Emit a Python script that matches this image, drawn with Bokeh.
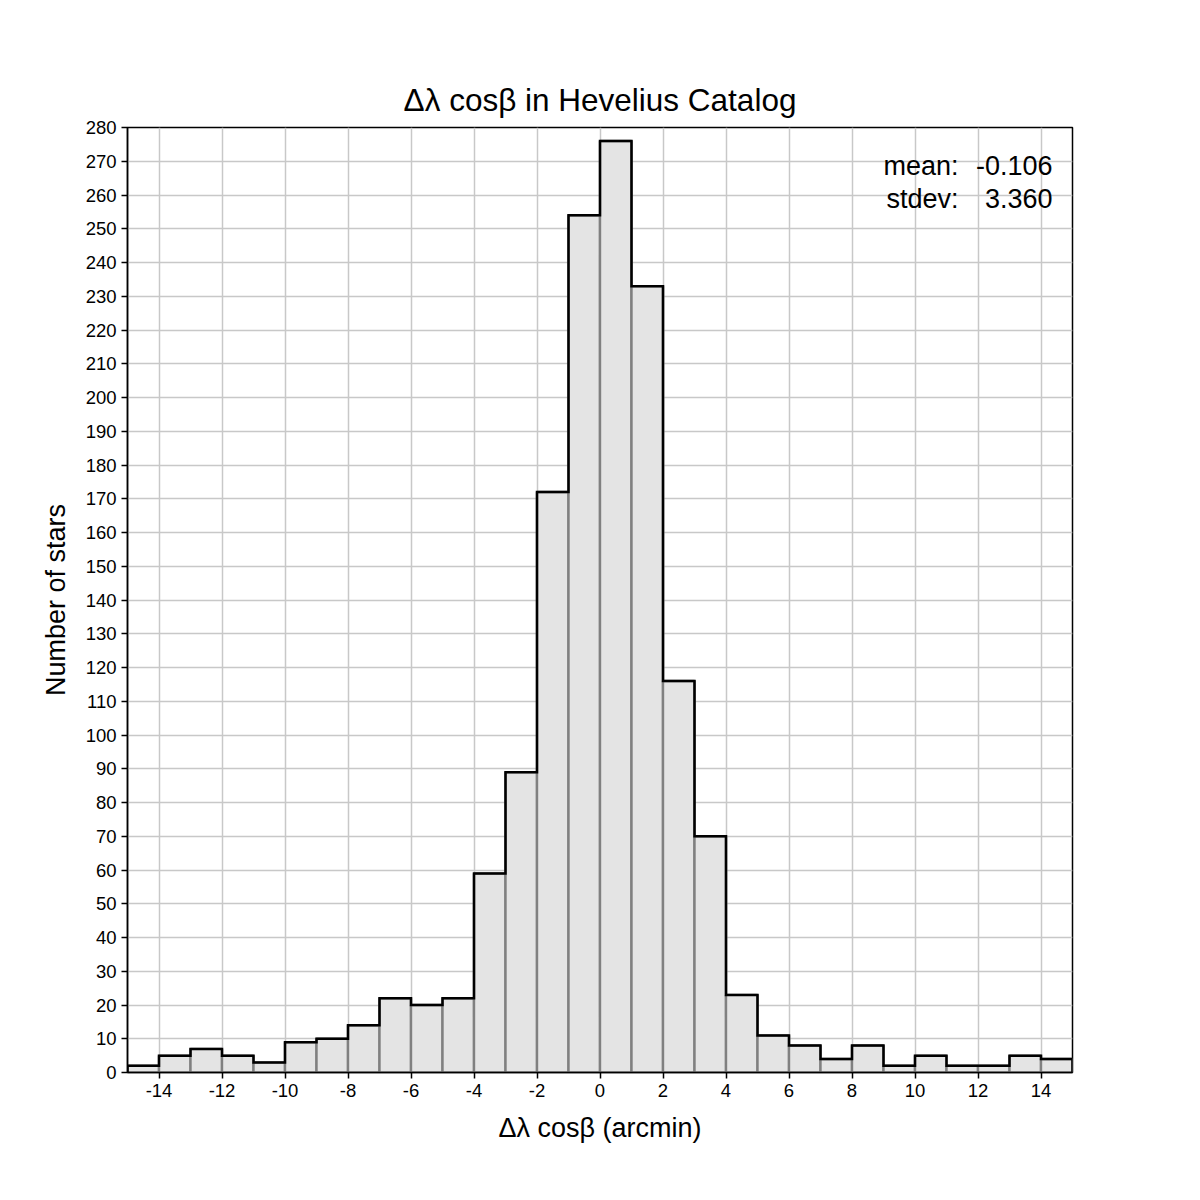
from bokeh.plotting import figure
from bokeh.models import Range1d, FixedTicker, Label, ColumnDataSource, PrintfTickFormatter
from bokeh.embed import file_html
from bokeh.resources import INLINE

# ---- data ----
bin_left = list(range(-15, 15))
bin_right = list(range(-14, 16))
counts = [2, 5, 7, 5, 3, 9, 10, 14, 22, 20, 22, 59, 89, 172, 254,
          276, 233, 116, 70, 23, 11, 8, 4, 8, 2, 5, 2, 2, 5, 4]
x_ticks = list(range(-14, 15, 2))
y_ticks = list(range(0, 281, 10))
title_text = "Δλ cosβ in Hevelius Catalog"
x_label = "Δλ cosβ (arcmin)"
y_label = "Number of stars"
stats_names = ["mean:", "stdev:"]
stats_values = ["-0.106", "3.360"]

FONT = "Liberation Sans"

p = figure(width=1184, height=1184, output_backend="svg", toolbar_location=None,
           x_range=Range1d(-15, 15), y_range=Range1d(0, 280),
           min_border_left=127, min_border_right=112,
           min_border_top=127, min_border_bottom=112)

p.title.text = title_text
p.title.text_font = FONT
p.title.text_font_size = "31.5px"
p.title.text_font_style = "normal"
p.title.text_color = "black"
p.title.align = "center"
p.title.standoff = 20

src = ColumnDataSource(dict(left=bin_left, right=bin_right, top=counts))
p.quad(left="left", right="right", bottom=0, top="top", source=src,
       fill_color="#e4e4e4", line_color="#808080", line_width=2.4)

# outline step
xs, ys = [bin_left[0]], [0]
for l, r, c in zip(bin_left, bin_right, counts):
    xs += [l, r]
    ys += [c, c]
xs.append(bin_right[-1]); ys.append(0)
p.line(xs, ys, line_color="black", line_width=2.5, line_join="miter")

# grid
p.xgrid.ticker = FixedTicker(ticks=x_ticks)
p.ygrid.ticker = FixedTicker(ticks=y_ticks)
for g in (p.xgrid, p.ygrid):
    g.grid_line_color = "#c8c8c8"
    g.grid_line_width = 1.5
    g.level = "underlay"

# axes
p.xaxis.ticker = FixedTicker(ticks=x_ticks)
p.yaxis.ticker = FixedTicker(ticks=y_ticks)
for ax in (p.xaxis, p.yaxis):
    ax.formatter = PrintfTickFormatter(format="%d")
    ax.axis_line_color = "black"
    ax.axis_line_width = 1.5
    ax.major_tick_line_color = "black"
    ax.major_tick_line_width = 1.5
    ax.major_tick_out = 6
    ax.major_tick_in = 0
    ax.minor_tick_line_color = None
    ax.major_label_text_font = FONT
    ax.major_label_text_font_size = "18.5px"
    ax.major_label_text_color = "black"
    ax.axis_label_text_font = FONT
    ax.axis_label_text_font_size = "27px"
    ax.axis_label_text_font_style = "normal"
    ax.axis_label_text_color = "black"
p.xaxis.axis_label = x_label
p.yaxis.axis_label = y_label
p.xaxis.major_label_standoff = 5
p.yaxis.major_label_standoff = 5
p.xaxis.axis_label_standoff = 13
p.yaxis.axis_label_standoff = 12

p.outline_line_color = "black"
p.outline_line_width = 1.5
p.outline_line_alpha = 1

# stats text (screen units relative to frame bottom-left)
for i, (n, v) in enumerate(zip(stats_names, stats_values)):
    yy = 907 - i * 33
    p.add_layout(Label(x=831, y=yy, x_units="screen", y_units="screen", text=n,
                       text_align="right", text_baseline="alphabetic",
                       text_font=FONT, text_font_size="27px", text_color="black"))
    p.add_layout(Label(x=925, y=yy, x_units="screen", y_units="screen", text=v,
                       text_align="right", text_baseline="alphabetic",
                       text_font=FONT, text_font_size="27px", text_color="black"))

open("out.html", "w").write(file_html(p, INLINE))
